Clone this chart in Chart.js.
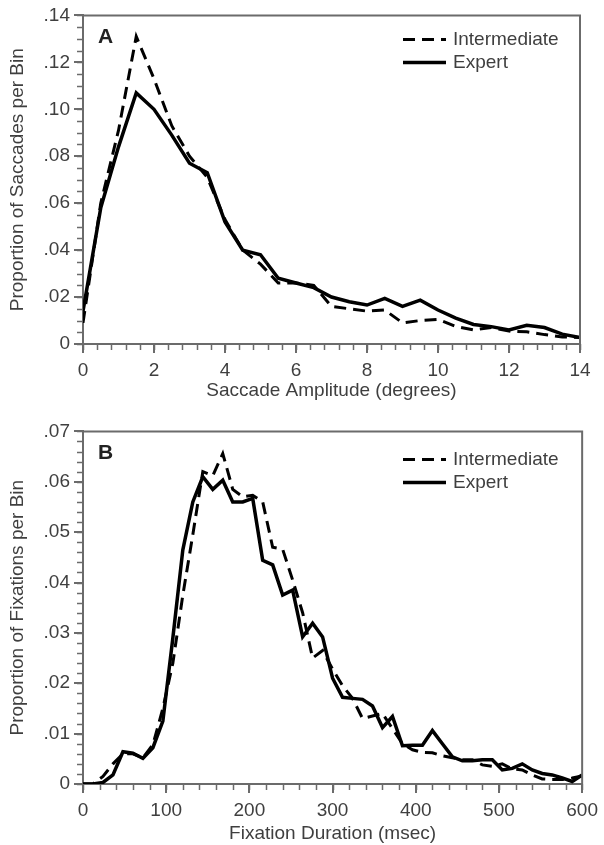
<!DOCTYPE html>
<html>
<head>
<meta charset="utf-8">
<script src="https://cdn.jsdelivr.net/npm/chart.js@4.4.1/dist/chart.umd.min.js"></script>
<style>
  html, body { margin: 0; padding: 0; background: #fff; }
  .panel { position: absolute; left: 0; width: 604px; }
  #panelA { top: 0; height: 412px; }
  #panelB { top: 416px; height: 429px; }
</style>
</head>
<body>
<div class="panel" id="panelA"><canvas id="chartA"></canvas></div>
<div class="panel" id="panelB"><canvas id="chartB"></canvas></div>
<script>
// panel A - saccade amplitude (degrees), 0.5 deg bins
const saccadeAmplitude = [0, 0.5, 1, 1.5, 2, 2.5, 3, 3.5, 4, 4.5, 5, 5.5, 6, 6.5, 7,
  7.5, 8, 8.5, 9, 9.5, 10, 10.5, 11, 11.5, 12, 12.5, 13, 13.5, 14];
const saccadeIntermediate = [0.009, 0.060, 0.091, 0.131, 0.113, 0.093, 0.080, 0.071, 0.053, 0.040,
  0.034, 0.026, 0.026, 0.025, 0.016, 0.015, 0.014, 0.0145, 0.009, 0.010, 0.0105, 0.0075, 0.006,
  0.007, 0.0055, 0.0052, 0.004, 0.003, 0.0028];
const saccadeExpert = [0.014, 0.058, 0.084, 0.107, 0.100, 0.089, 0.077, 0.073, 0.052, 0.040,
  0.038, 0.028, 0.026, 0.024, 0.020, 0.018, 0.0166, 0.0194, 0.016, 0.0187, 0.0145, 0.011, 0.0083,
  0.0074, 0.006, 0.008, 0.007, 0.0042, 0.0028];

// panel B - fixation duration (msec), 12 ms bins
const fixationDuration = [0, 12, 24, 36, 48, 60, 72, 84, 96, 108, 120, 132, 144, 156, 168, 180,
  192, 204, 216, 228, 240, 252, 264, 276, 288, 300, 312, 324, 336, 348, 360, 372, 384, 396, 408,
  420, 432, 444, 456, 468, 480, 492, 504, 516, 528, 540, 552, 564, 576, 588, 600];
const fixationIntermediate = [0, 0, 0.0015, 0.0040, 0.0060, 0.0060, 0.0052, 0.0078, 0.0150, 0.0240,
  0.0375, 0.0495, 0.0620, 0.0612, 0.0656, 0.0585, 0.0570, 0.0573, 0.0560, 0.0470, 0.0466, 0.0405,
  0.0340, 0.0250, 0.0265, 0.0228, 0.0195, 0.0170, 0.0130, 0.0135, 0.0140, 0.0110, 0.0080, 0.0068,
  0.0063, 0.0062, 0.0056, 0.0052, 0.0048, 0.0048, 0.0038, 0.0035, 0.0040, 0.0030, 0.0028, 0.0018,
  0.0010, 0.0009, 0.0009, 0.0012, 0.0016];
const fixationExpert = [0, 0, 0.0003, 0.0018, 0.0064, 0.0061, 0.0051, 0.0072, 0.0125, 0.0290,
  0.0465, 0.0560, 0.0610, 0.0585, 0.0603, 0.0560, 0.0560, 0.0567, 0.0444, 0.0435, 0.0375, 0.0385,
  0.0292, 0.0319, 0.0292, 0.0210, 0.0172, 0.0170, 0.0168, 0.0155, 0.0112, 0.0134, 0.0076, 0.0077,
  0.0077, 0.0106, 0.0080, 0.0054, 0.0046, 0.0046, 0.0048, 0.0048, 0.0028, 0.0031, 0.0040, 0.0028,
  0.0021, 0.0018, 0.0012, 0.0005, 0.0018];

const seriesNames = ['Intermediate', 'Expert'];

const axisColor = '#6b6b6b';
const textColor = '#3f3f3f';
Chart.defaults.font.family = "'Liberation Sans', Arial, sans-serif";
Chart.defaults.font.size = 19;
Chart.defaults.color = textColor;

const toPoints = (xs, ys) => xs.map((x, i) => ({ x: x, y: ys[i] }));
const fmtProp = v => (v === 0 ? '0' : v.toFixed(2).replace(/^0/, ''));

// frame, minor ticks, legend and panel letter
const panelDeco = {
  id: 'panelDeco',
  afterDraw(chart, args, opts) {
    const { ctx, chartArea: a, scales: { x, y } } = chart;
    ctx.save();
    ctx.strokeStyle = axisColor;
    ctx.lineWidth = 2;
    ctx.beginPath();
    ctx.moveTo(a.left, a.top);
    ctx.lineTo(a.right, a.top);
    ctx.lineTo(a.right, a.bottom);
    ctx.stroke();

    ctx.lineWidth = 1.5;
    ctx.beginPath();
    for (let v = x.min; v <= x.max + 1e-9; v += opts.xMinor) {
      const px = Math.round(x.getPixelForValue(v)) + 0.5;
      ctx.moveTo(px, a.bottom);
      ctx.lineTo(px, a.bottom + 6);
    }
    for (let v = y.min; v <= y.max + 1e-9; v += opts.yMinor) {
      const py = Math.round(y.getPixelForValue(v)) + 0.5;
      ctx.moveTo(a.left, py);
      ctx.lineTo(a.left - 6, py);
    }
    ctx.stroke();

    // legend
    ctx.font = "19px 'Liberation Sans', Arial, sans-serif";
    ctx.textBaseline = 'middle';
    chart.data.datasets.forEach((ds, i) => {
      const ly = a.top + opts.legendTop + i * 23;
      ctx.strokeStyle = '#000';
      ctx.lineWidth = ds.borderWidth;
      ctx.setLineDash(ds.borderDash || []);
      ctx.beginPath();
      ctx.moveTo(a.left + 320, ly);
      ctx.lineTo(a.left + 363, ly);
      ctx.stroke();
      ctx.setLineDash([]);
      ctx.fillStyle = textColor;
      ctx.fillText(ds.label, a.left + 370, ly);
    });

    ctx.font = "bold 21px 'Liberation Sans', Arial, sans-serif";
    ctx.fillStyle = '#222';
    ctx.fillText(opts.letter, a.left + 15, a.top + 22);
    ctx.restore();
  }
};

function makeChart(id, xs, inter, expert, cfg) {
  return new Chart(document.getElementById(id), {
    type: 'line',
    data: {
      datasets: [
        {
          label: seriesNames[0],
          data: toPoints(xs, inter),
          borderColor: '#000',
          borderWidth: 3,
          borderDash: [12, 7],
          pointRadius: 0,
          tension: 0,
        },
        {
          label: seriesNames[1],
          data: toPoints(xs, expert),
          borderColor: '#000',
          borderWidth: 3.5,
          pointRadius: 0,
          tension: 0,
        },
      ],
    },
    options: {
      responsive: true,
      maintainAspectRatio: false,
      animation: false,
      layout: { padding: { top: 15, right: cfg.padRight, left: 0, bottom: 0 } },
      plugins: {
        legend: { display: false },
        tooltip: { enabled: false },
        panelDeco: cfg.deco,
      },
      scales: {
        x: {
          type: 'linear',
          min: cfg.xMin,
          max: cfg.xMax,
          afterFit: s => { s.height = cfg.xHeight; },
          border: { color: axisColor, width: 2 },
          grid: { drawOnChartArea: false, tickLength: 9, color: axisColor, lineWidth: 2 },
          ticks: { stepSize: cfg.xStep, padding: 6, maxRotation: 0 },
          title: { display: true, text: cfg.xTitle, padding: { top: 0, bottom: cfg.xTitlePad } },
        },
        y: {
          min: 0,
          max: cfg.yMax,
          afterFit: s => { s.width = 83; },
          border: { color: axisColor, width: 2 },
          grid: { drawOnChartArea: false, tickLength: 9, color: axisColor, lineWidth: 2 },
          ticks: { stepSize: cfg.yStep, padding: 4, callback: fmtProp },
          title: { display: true, text: cfg.yTitle, padding: { top: 6, bottom: 0 } },
        },
      },
    },
    plugins: [panelDeco],
  });
}

makeChart('chartA', saccadeAmplitude, saccadeIntermediate, saccadeExpert, {
  xMin: 0, xMax: 14, xStep: 2, yMax: 0.14, yStep: 0.02,
  xHeight: 68, padRight: 24, xTitlePad: 10,
  xTitle: 'Saccade Amplitude (degrees)',
  yTitle: 'Proportion of Saccades per Bin',
  deco: { letter: 'A', xMinor: 0.4, yMinor: 0.005, legendTop: 24 },
});

makeChart('chartB', fixationDuration, fixationIntermediate, fixationExpert, {
  xMin: 0, xMax: 600, xStep: 100, yMax: 0.07, yStep: 0.01,
  xHeight: 61, padRight: 17, xTitlePad: 0,
  xTitle: 'Fixation Duration (msec)',
  yTitle: 'Proportion of Fixations per Bin',
  deco: { letter: 'B', xMinor: 20, yMinor: 0.002, legendTop: 28 },
});
</script>
</body>
</html>
